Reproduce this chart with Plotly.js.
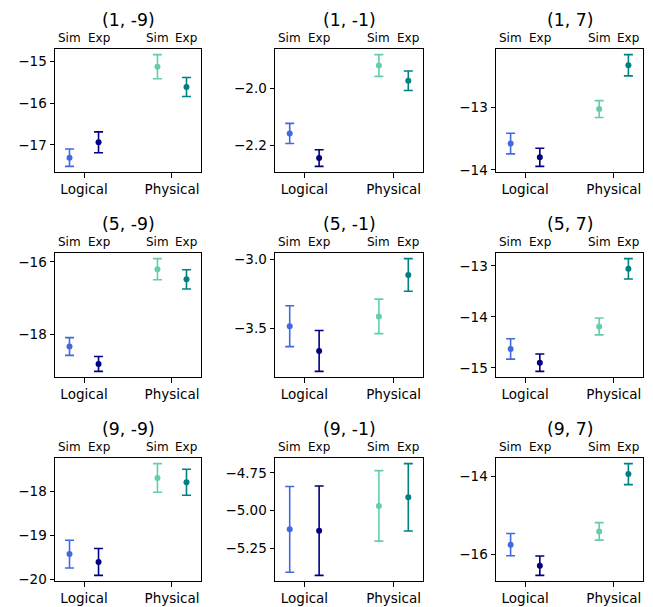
<!DOCTYPE html>
<html>
<head>
<meta charset="utf-8">
<script src="https://cdn.plot.ly/plotly-3.0.1.min.js"></script>
<style>html,body{margin:0;padding:0;background:#fff;}#chart{width:653px;height:607px;}</style>
</head>
<body>
<div id="chart"></div>
<script>
// ---- data ----
const panelTitles = ["(1, -9)", "(1, -1)", "(1, 7)", "(5, -9)", "(5, -1)", "(5, 7)", "(9, -9)", "(9, -1)", "(9, 7)"];
const categories = ["Logical", "Physical"];
const methodLabels = ["Sim", "Exp"];

const logicalSim      = [-17.31, -2.158, -13.58, -18.33, -3.484, -14.63, -19.42, -5.126, -15.75];
const logicalSimErr   = [0.21, 0.035, 0.165, 0.245, 0.148, 0.20, 0.315, 0.285, 0.285];
const logicalExp      = [-16.94, -2.244, -13.80, -18.81, -3.663, -14.90, -19.60, -5.135, -16.29];
const logicalExpErr   = [0.25, 0.029, 0.145, 0.205, 0.148, 0.17, 0.305, 0.297, 0.25];
const physicalSim     = [-15.12, -1.921, -13.03, -16.20, -3.413, -14.19, -17.69, -4.970, -15.41];
const physicalSimErr  = [0.29, 0.038, 0.135, 0.29, 0.125, 0.165, 0.325, 0.234, 0.225];
const physicalExp     = [-15.61, -1.974, -12.33, -16.48, -3.113, -13.06, -17.79, -4.913, -13.94];
const physicalExpErr  = [0.23, 0.034, 0.17, 0.265, 0.118, 0.20, 0.295, 0.224, 0.27];

const yTickVals = [[-17, -16, -15], [-2.2, -2.0], [-14, -13], [-18, -16], [-3.5, -3.0], [-15, -14, -13], [-20, -19, -18], [-5.25, -5.0, -4.75], [-16, -14]];
const yTickText = [["−17", "−16", "−15"], ["−2.2", "−2.0"], ["−14", "−13"], ["−18", "−16"], ["−3.5", "−3.0"], ["−15", "−14", "−13"], ["−20", "−19", "−18"], ["−5.25", "−5.00", "−4.75"], ["−16", "−14"]];

// ---- styling / layout ----
const colors = {LS: "#4169E1", LE: "#000080", PS: "#66CDAA", PE: "#008080"};
const FONT = "DejaVu Sans, sans-serif";
const W = 653, H = 607;
const colPx = [[55, 201], [275, 423], [496, 643]];
const rowPx = [[49, 172], [253, 377], [458, 581]];
const OFF = 0.165;

const traces = [];
const layout = {
  width: W, height: H,
  margin: {l: 0, r: 0, t: 0, b: 0},
  paper_bgcolor: "#fff", plot_bgcolor: "#fff",
  showlegend: false,
  font: {family: FONT, color: "#000", size: 13},
  annotations: []
};

for (let p = 0; p < 9; p++) {
  const r = Math.floor(p / 3), c = p % 3;
  const n = p + 1;
  const xa = "x" + (n === 1 ? "" : n), ya = "y" + (n === 1 ? "" : n);
  const xk = "xaxis" + (n === 1 ? "" : n), yk = "yaxis" + (n === 1 ? "" : n);

  const pts = [
    {x: 0 - OFF, y: logicalSim[p], e: logicalSimErr[p], col: colors.LS},
    {x: 0 + OFF, y: logicalExp[p], e: logicalExpErr[p], col: colors.LE},
    {x: 1 - OFF, y: physicalSim[p], e: physicalSimErr[p], col: colors.PS},
    {x: 1 + OFF, y: physicalExp[p], e: physicalExpErr[p], col: colors.PE}
  ];
  let lo = Infinity, hi = -Infinity;
  pts.forEach(pt => {
    lo = Math.min(lo, pt.y - pt.e); hi = Math.max(hi, pt.y + pt.e);
    traces.push({
      type: "scatter", mode: "markers", x: [pt.x], y: [pt.y],
      xaxis: xa, yaxis: ya,
      marker: {color: pt.col, size: 6},
      error_y: {type: "data", array: [pt.e], visible: true, color: pt.col, thickness: 1.6, width: 4.5},
      hoverinfo: "skip"
    });
  });
  const pad = (hi - lo) * 0.05;

  layout[xk] = {
    domain: [colPx[c][0] / W, colPx[c][1] / W],
    anchor: ya, range: [-0.33, 1.33],
    tickvals: [0, 1], ticktext: categories,
    ticks: "outside", ticklen: 4.5, tickwidth: 1, tickcolor: "#000",
    showline: true, linecolor: "#000", linewidth: 1, mirror: true,
    showgrid: false, zeroline: false, fixedrange: true,
    tickfont: {family: FONT, size: 13.5, color: "#000"}
  };
  layout[yk] = {
    domain: [1 - rowPx[r][1] / H, 1 - rowPx[r][0] / H],
    anchor: xa, range: [lo - pad, hi + pad],
    tickvals: yTickVals[p], ticktext: yTickText[p],
    ticks: "outside", ticklen: 4.5, tickwidth: 1, tickcolor: "#000",
    showline: true, linecolor: "#000", linewidth: 1, mirror: true,
    showgrid: false, zeroline: false, fixedrange: true,
    tickfont: {family: FONT, size: 13.5, color: "#000"}
  };

  // title
  layout.annotations.push({
    text: panelTitles[p], xref: "paper", yref: "paper",
    x: (colPx[c][0] + colPx[c][1]) / 2 / W, y: 1 - rowPx[r][0] / H,
    xanchor: "center", yanchor: "middle", yshift: 29, showarrow: false,
    font: {family: FONT, size: 17.3, color: "#000"}
  });
  // Sim / Exp labels on top
  [0, 1].forEach(ci => {
    [-OFF, OFF].forEach((o, mi) => {
      layout.annotations.push({
        text: methodLabels[mi], xref: xa, yref: ya + " domain",
        x: ci + o, y: 1, xanchor: "center", yanchor: "bottom", yshift: 2,
        showarrow: false, font: {family: FONT, size: 12, color: "#000"}
      });
    });
  });
}

Plotly.newPlot("chart", traces, layout, {staticPlot: true, displayModeBar: false});
</script>
</body>
</html>
